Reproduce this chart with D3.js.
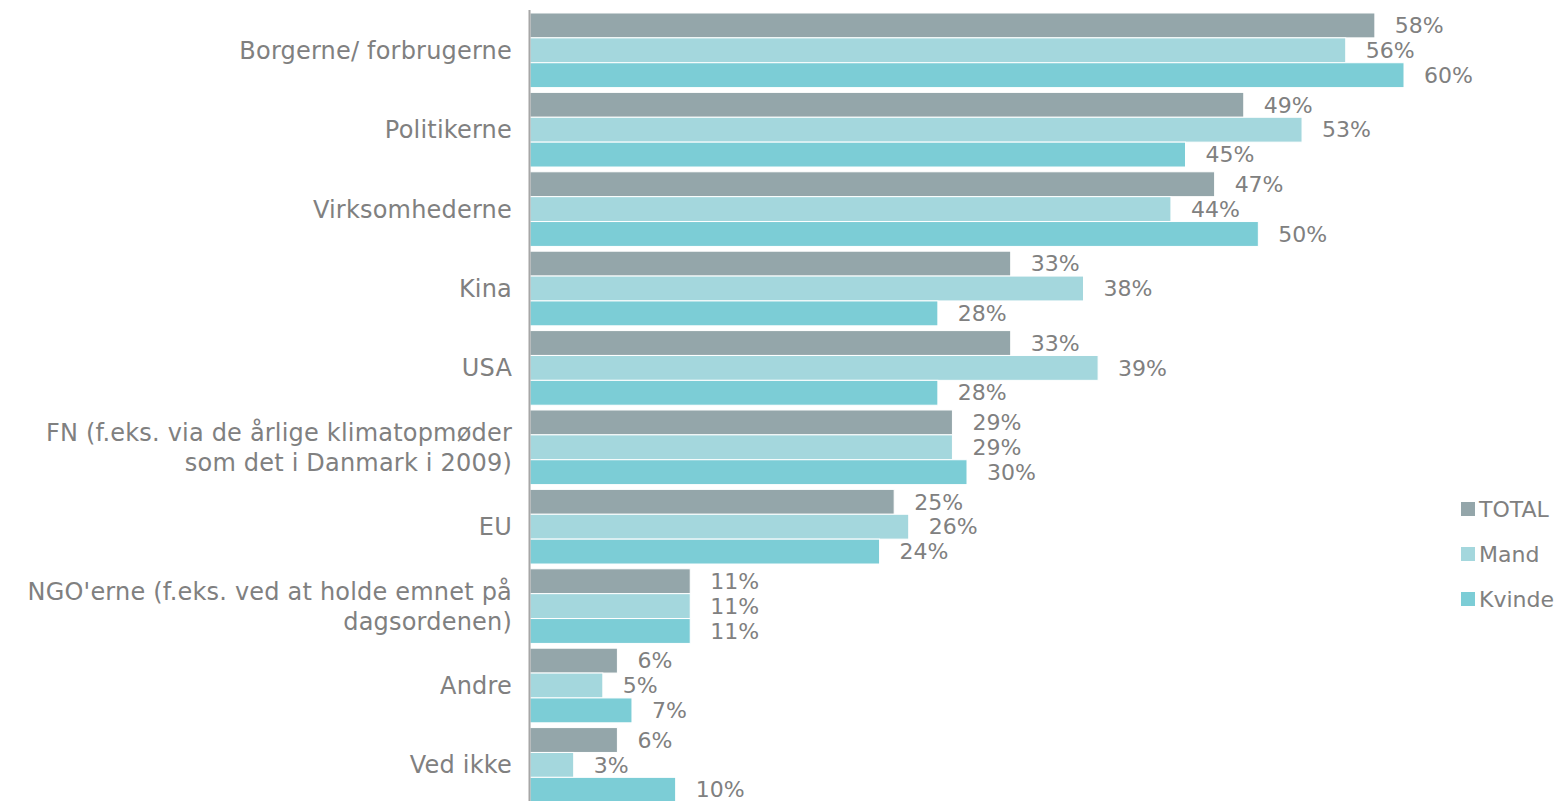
<!DOCTYPE html>
<html><head><meta charset="utf-8">
<script src="https://cdn.jsdelivr.net/npm/d3@7"></script>
<style>body{margin:0;background:#fff}svg{display:block}text{font-family:"DejaVu Sans",sans-serif;fill:#808080}</style>
</head><body><svg id="c" width="1564" height="801"></svg>
<script>
const categories = [
  ["Borgerne/ forbrugerne"],
  ["Politikerne"],
  ["Virksomhederne"],
  ["Kina"],
  ["USA"],
  ["FN (f.eks. via de årlige klimatopmøder", "som det i Danmark i 2009)"],
  ["EU"],
  ["NGO'erne (f.eks. ved at holde emnet på", "dagsordenen)"],
  ["Andre"],
  ["Ved ikke"]
];
const seriesNames = ["TOTAL", "Mand", "Kvinde"];
const total  = [58, 49, 47, 33, 33, 29, 25, 11, 6, 6];
const mand   = [56, 53, 44, 38, 39, 29, 26, 11, 5, 3];
const kvinde = [60, 45, 50, 28, 28, 30, 24, 11, 7, 10];
const colors = ["#94a6aa", "#a4d7dd", "#7ccdd6"];

const series = [total, mand, kvinde];
const svg = d3.select("#c");
const x = d3.scaleLinear().domain([0, 60]).range([530, 1404]);
const idx = d3.range(categories.length);
const y = d3.scaleBand().domain(idx).range([10.6, 804.6]).paddingInner(0.06).paddingOuter(0.03);
const y1 = d3.scaleBand().domain(d3.range(3)).range([0, y.bandwidth()]);
const fs = 22;

const g = svg.append("g");
idx.forEach(i => {
  series.forEach((s, k) => {
    const yy = y(i) + y1(k);
    g.append("rect").attr("x", x(0)).attr("y", yy)
      .attr("width", x(s[i]) - x(0)).attr("height", y1.bandwidth())
      .attr("fill", colors[k]).attr("stroke", "#fff").attr("stroke-width", 1);
    g.append("text").attr("x", x(s[i]) + 20).attr("y", yy + y1.bandwidth() / 2)
      .attr("dy", "0.35em").attr("font-size", fs).text(s[i] + "%");
  });
  const lines = categories[i];
  const cy = y(i) + y.bandwidth() / 2;
  lines.forEach((l, j) => {
    g.append("text").attr("x", 512).attr("text-anchor", "end")
      .attr("y", cy + (j - (lines.length - 1) / 2) * 30).attr("dy", "0.35em")
      .attr("font-size", 24).attr("letter-spacing", 0.2).text(l);
  });
});
svg.append("line").attr("x1", 529.5).attr("x2", 529.5).attr("y1", 10).attr("y2", 801)
  .attr("stroke", "#a6a6a6").attr("stroke-width", 2);

const leg = svg.append("g");
seriesNames.forEach((n, k) => {
  const cy = 509 + k * 45;
  leg.append("rect").attr("x", 1461).attr("y", cy - 7).attr("width", 14).attr("height", 14).attr("fill", colors[k]);
  leg.append("text").attr("x", 1479).attr("y", cy).attr("dy", "0.35em").attr("font-size", fs).text(n);
});
</script></body></html>
